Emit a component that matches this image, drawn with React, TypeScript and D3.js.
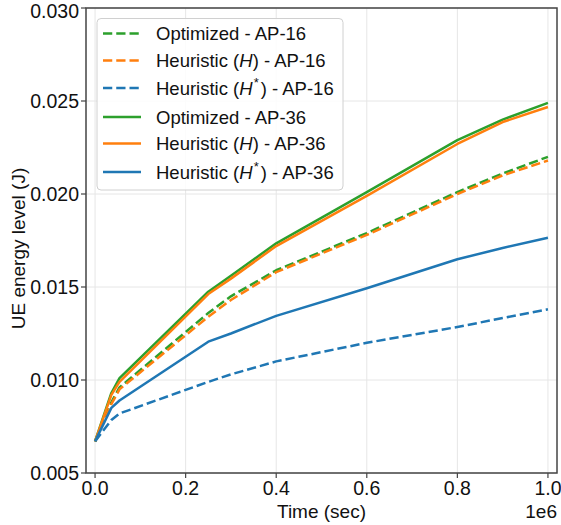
import React from "react";
import * as d3 from "d3";

// Time samples (seconds) shared by every series
const times = [0, 36000, 54000, 250000, 300000, 400000, 600000, 800000, 900000, 1000000];

// UE energy level (J) per scheme and AP count
const optimizedAP16 = [0.0067, 0.0088, 0.0096, 0.0136, 0.0145, 0.0159, 0.0179, 0.0201, 0.0211, 0.0220];
const heuristicHAP16 = [0.0067, 0.0087, 0.0095, 0.0134, 0.0143, 0.0158, 0.0178, 0.0200, 0.0210, 0.0218];
const heuristicHStarAP16 = [0.0067, 0.00785, 0.0082, 0.0099, 0.0103, 0.0110, 0.0120, 0.01285, 0.01333, 0.0138];
const optimizedAP36 = [0.0067, 0.0093, 0.0101, 0.01475, 0.0156, 0.01735, 0.0201, 0.0229, 0.0240, 0.0249];
const heuristicHAP36 = [0.0067, 0.0092, 0.0099, 0.01462, 0.01545, 0.0172, 0.0199, 0.02269, 0.02387, 0.02468];
const heuristicHStarAP36 = [0.0067, 0.0085, 0.0089, 0.01206, 0.0125, 0.01345, 0.01493, 0.01649, 0.0171, 0.01765];

const xTicks = [0, 200000, 400000, 600000, 800000, 1000000];
const xTickLabels = ["0.0", "0.2", "0.4", "0.6", "0.8", "1.0"];
const yTicks = [0.005, 0.01, 0.015, 0.02, 0.025, 0.03];
const yTickLabels = ["0.005", "0.010", "0.015", "0.020", "0.025", "0.030"];

type Series = { name: string; hStar: boolean; hItalic: boolean; suffix: string; values: number[]; color: string; dashed: boolean };

const GREEN = "#2ca02c";
const ORANGE = "#ff7f0e";
const BLUE = "#1f77b4";

const series: Series[] = [
  { name: "Optimized", hStar: false, hItalic: false, suffix: " - AP-16", values: optimizedAP16, color: GREEN, dashed: true },
  { name: "Heuristic", hStar: false, hItalic: true, suffix: " - AP-16", values: heuristicHAP16, color: ORANGE, dashed: true },
  { name: "Heuristic", hStar: true, hItalic: true, suffix: " - AP-16", values: heuristicHStarAP16, color: BLUE, dashed: true },
  { name: "Optimized", hStar: false, hItalic: false, suffix: " - AP-36", values: optimizedAP36, color: GREEN, dashed: false },
  { name: "Heuristic", hStar: false, hItalic: true, suffix: " - AP-36", values: heuristicHAP36, color: ORANGE, dashed: false },
  { name: "Heuristic", hStar: true, hItalic: true, suffix: " - AP-36", values: heuristicHStarAP36, color: BLUE, dashed: false },
];

const W = 561;
const H = 525;
const left = 86;
const right = 557;
const top = 8;
const bottom = 473;
const FONT = "'Liberation Sans', Arial, Helvetica, sans-serif";
const LW = 2.5;
const DASH = "9.25,4";

export default function App() {
  const x = d3.scaleLinear().domain([-20000, 1020000]).range([left, right]);
  const y = d3.scaleLinear().domain([0.005, 0.03]).range([bottom, top]);
  const line = d3
    .line<number>()
    .x((_, i) => x(times[i]))
    .y((v) => y(v));

  const legendRowsY = [33.5, 60.5, 88, 117, 143.5, 172];

  return (
    <svg
      width={W}
      height={H}
      style={{ position: "absolute", left: 0, top: 0, background: "#fff" }}
      fontFamily={FONT}
    >
      <rect x={0} y={0} width={W} height={H} fill="#fff" />
      {/* grid */}
      <g stroke="#e6e6e6" strokeWidth={1}>
        {xTicks.map((t) => (
          <line key={"gx" + t} x1={x(t)} x2={x(t)} y1={top} y2={bottom} />
        ))}
        {yTicks.map((t) => (
          <line key={"gy" + t} x1={left} x2={right} y1={y(t)} y2={y(t)} />
        ))}
      </g>
      {/* series */}
      <g fill="none" strokeLinejoin="round">
        {series.map((s, i) => (
          <path
            key={i}
            d={line(s.values) || ""}
            stroke={s.color}
            strokeWidth={LW}
            strokeDasharray={s.dashed ? DASH : undefined}
          />
        ))}
      </g>
      {/* frame */}
      <rect x={left} y={top} width={right - left} height={bottom - top} fill="none" stroke="#444" strokeWidth={1.5} />
      {/* x ticks */}
      <g>
        {xTicks.map((t, i) => (
          <g key={"xt" + t}>
            <line x1={x(t)} x2={x(t)} y1={bottom} y2={bottom + 5} stroke="#444" strokeWidth={1.2} />
            <text x={x(t)} y={bottom + 22} textAnchor="middle" fontSize={19.5} fill="#111">
              {xTickLabels[i]}
            </text>
          </g>
        ))}
      </g>
      {/* y ticks */}
      <g>
        {yTicks.map((t, i) => (
          <g key={"yt" + t}>
            <line x1={left - 5} x2={left} y1={y(t)} y2={y(t)} stroke="#444" strokeWidth={1.2} />
            <text x={left - 7} y={Math.max(y(t), 11)} dy="0.35em" textAnchor="end" fontSize={19.5} fill="#111">
              {yTickLabels[i]}
            </text>
          </g>
        ))}
      </g>
      {/* axis titles */}
      <text x={(left + right) / 2} y={518} textAnchor="middle" fontSize={19} fill="#111">
        Time (sec)
      </text>
      <text x={right} y={518} textAnchor="end" fontSize={19} fill="#111">
        1e6
      </text>
      <text
        transform={`translate(25, ${(top + bottom) / 2 + 8}) rotate(-90)`}
        textAnchor="middle"
        fontSize={19}
        fill="#111"
      >
        UE energy level (J)
      </text>
      {/* legend */}
      <g>
        <rect x={97} y={18.5} width={246} height={171.5} rx={4} fill="#fff" fillOpacity={0.85} stroke="#d0d0d0" strokeWidth={1} />
        {series.map((s, i) => {
          const cy = legendRowsY[i];
          return (
            <g key={"lg" + i}>
              <line
                x1={103}
                x2={141}
                y1={cy}
                y2={cy}
                stroke={s.color}
                strokeWidth={LW}
                strokeDasharray={s.dashed ? DASH : undefined}
              />
              <text x={156} y={cy} dy="0.36em" fontSize={18.5} fill="#111">
                {s.hItalic ? (
                  <>
                    {s.name + " ("}
                    <tspan fontStyle="italic">H</tspan>
                    {s.hStar ? (
                      <tspan fontSize={13} dx={1} dy={-8}>
                        *
                      </tspan>
                    ) : null}
                    <tspan dx={s.hStar ? 2 : 0} dy={s.hStar ? 8 : 0}>{")" + s.suffix}</tspan>
                  </>
                ) : (
                  s.name + s.suffix
                )}
              </text>
            </g>
          );
        })}
      </g>
    </svg>
  );
}
